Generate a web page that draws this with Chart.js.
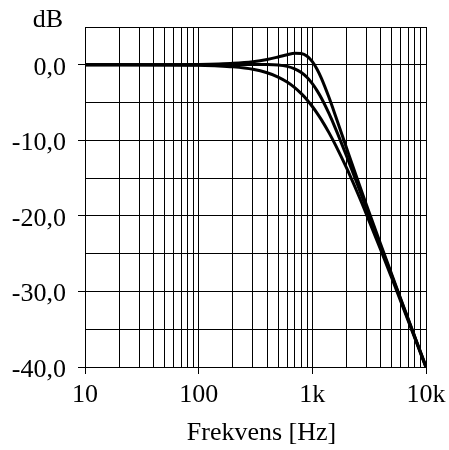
<!DOCTYPE html>
<html lang="no">
<head>
    <meta charset="UTF-8">
    <title>Frekvensrespons</title>
    <script src="https://cdn.jsdelivr.net/npm/chart.js"></script>
    <style>
        html, body { margin: 0; padding: 0; background: #fff; }
        #wrap { width: 449px; height: 450px; }
    </style>
</head>
<body>
    <div id="wrap">
        <canvas id="responseChart" width="449" height="450"></canvas>
    </div>
    <script>
        const freqs = [10, 20, 50, 100, 150, 200, 300, 400, 500, 600, 700, 800, 900,
                       1000, 1100, 1200, 1400, 1600, 2000, 2500, 3000, 4000, 5000, 6000, 8000, 10000];

        // gain in dB, three curves
        const peakedDb = [0, 0, 0.01, 0.05, 0.11, 0.19, 0.41, 0.70, 1.03, 1.33, 1.52, 1.49, 1.13,
                          0.42, -0.58, -1.76, -4.31, -6.77, -11.01, -15.22, -18.58, -23.79, -27.77, -31.0, -36.05, -39.95];
        const flatDb   = [0, 0, 0, 0.01, 0.02, 0.03, 0.05, 0.04, -0.03, -0.21, -0.54, -1.03, -1.69,
                          -2.50, -3.42, -4.40, -6.44, -8.44, -12.07, -15.87, -19.03, -24.04, -27.93, -31.10, -36.11, -39.99];
        const dampedDb = [0, 0, -0.02, -0.07, -0.15, -0.27, -0.60, -1.06, -1.62, -2.28, -3.02, -3.82, -4.65,
                          -5.52, -6.39, -7.26, -8.98, -10.63, -13.66, -16.97, -19.83, -24.50, -28.23, -31.31, -36.23, -40.07];

        // grid lines on the frequency axis and which of them carry a label
        const xGrid = [10, 20, 30, 40, 50, 60, 70, 80, 90,
                       100, 200, 300, 400, 500, 600, 700, 800, 900,
                       1000, 2000, 3000, 4000, 5000, 6000, 7000, 8000, 9000, 10000];
        const xLabelValues = [10, 100, 1000, 10000];
        const xLabelTexts = ['10', '100', '1k', '10k'];

        const yMin = -40;
        const yMax = 5;
        const yStep = 5;
        const yLabelEvery = 10;

        const FONT = { family: '"Liberation Serif", "Times New Roman", serif', size: 26 };

        function toPoints(values) {
            return freqs.map((f, i) => ({ x: f, y: values[i] }));
        }

        function curve(values) {
            return {
                data: toPoints(values),
                borderColor: '#000',
                borderWidth: 3,
                pointRadius: 0,
                fill: false,
                cubicInterpolationMode: 'monotone'
            };
        }

        // "dB" over the value axis, and the axis title a little right of centre like the original
        const extraText = {
            id: 'extraText',
            afterDraw(chart) {
                const ctx = chart.ctx;
                const area = chart.chartArea;
                ctx.save();
                ctx.font = FONT.size + 'px ' + FONT.family;
                ctx.fillStyle = '#000';
                ctx.textAlign = 'center';
                ctx.textBaseline = 'alphabetic';
                ctx.fillText('dB', area.left - 37, area.top);
                ctx.fillText('Frekvens [Hz]', (area.left + area.right) / 2 + 6, chart.height - 10);
                ctx.restore();
            }
        };

        Chart.defaults.font.family = FONT.family;
        Chart.defaults.font.size = FONT.size;
        Chart.defaults.color = '#000';

        const chart = new Chart(document.getElementById('responseChart'), {
            type: 'line',
            data: {
                datasets: [curve(peakedDb), curve(flatDb), curve(dampedDb)]
            },
            options: {
                responsive: false,
                animation: false,
                layout: { padding: { top: 27, right: 23, left: 0, bottom: 0 } },
                plugins: {
                    legend: { display: false },
                    tooltip: { enabled: false }
                },
                scales: {
                    x: {
                        type: 'logarithmic',
                        min: 10,
                        max: 10000,
                        afterBuildTicks(scale) {
                            scale.ticks = xGrid.map(v => ({ value: v }));
                        },
                        afterFit(scale) {
                            scale.height = 83;
                            scale.paddingLeft = 0;
                            scale.paddingRight = 0;
                        },
                        ticks: {
                            autoSkip: false,
                            maxRotation: 0,
                            padding: 6,
                            callback(value) {
                                const i = xLabelValues.indexOf(value);
                                return i >= 0 ? xLabelTexts[i] : '';
                            }
                        },
                        grid: {
                            color: '#000',
                            lineWidth: 1,
                            tickLength: 7,
                            tickColor: ctx => xLabelValues.includes(ctx.tick.value) ? '#000' : 'rgba(0,0,0,0)'
                        },
                        border: { color: '#000', width: 1 }
                    },
                    y: {
                        min: yMin,
                        max: yMax,
                        afterFit(scale) {
                            scale.width = 85;
                            scale.paddingTop = 0;
                            scale.paddingBottom = 0;
                        },
                        ticks: {
                            stepSize: yStep,
                            autoSkip: false,
                            padding: 12,
                            labelOffset: 3,
                            callback(value) {
                                return value % yLabelEvery === 0 ? value.toFixed(1).replace('.', ',') : '';
                            }
                        },
                        grid: {
                            color: '#000',
                            lineWidth: 1,
                            tickLength: 7,
                            tickColor: ctx => ctx.tick.value % yLabelEvery === 0 ? '#000' : 'rgba(0,0,0,0)'
                        },
                        border: { color: '#000', width: 1 }
                    }
                }
            },
            plugins: [extraText]
        });
    </script>
</body>
</html>
